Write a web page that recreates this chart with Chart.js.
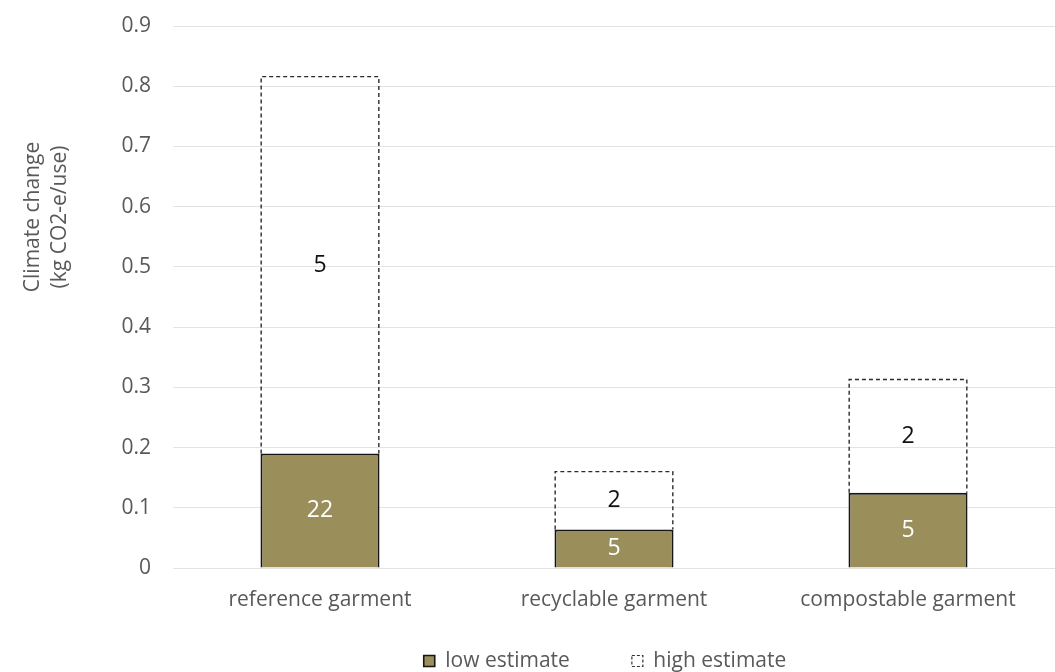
<!DOCTYPE html>
<html><head><meta charset="utf-8">
<script src="https://cdn.jsdelivr.net/npm/chart.js@4"></script>
<style>html,body{margin:0;padding:0;background:#fff}#wrap{width:1055px;height:672px}</style>
</head><body><div id="wrap"><canvas id="c" width="1055" height="672"></canvas></div>
<script>
const categories = ['reference garment', 'recyclable garment', 'compostable garment'];
const lowEstimate = [0.190, 0.064, 0.125];
const highEstimateExtra = [0.626, 0.096, 0.188];
const lowLabels = ['22', '5', '5'];
const highLabels = ['5', '2', '2'];
const yTickLabels = ['0', '0.1', '0.2', '0.3', '0.4', '0.5', '0.6', '0.7', '0.8', '0.9'];
const yTitle = ['Climate change', '(kg CO2-e/use)'];
const seriesNames = ['low estimate', 'high estimate'];

const OLIVE = '#9a8f5b';
const GRAY = '#595959';
const FONT = '"Open Sans", "DejaVu Sans", sans-serif';

const extras = {
  id: 'extras',
  afterLayout(chart) {
    const lg = chart.legend;
    const pad = lg.options.labels.padding;
    const itemH = lg.options.labels.font.size;
    lg.top = 661 - pad - itemH / 2;
    lg.bottom = chart.height;
    lg.left -= 9;
    lg.right -= 9;
  },
  afterDatasetsDraw(chart) {
    const ctx = chart.ctx;
    const m1 = chart.getDatasetMeta(1);
    m1.data.forEach(bar => {
      const p = bar.getProps(['x', 'y', 'base', 'width'], true);
      const l = p.x - p.width / 2 + 0.7, r = p.x + p.width / 2 - 0.7;
      ctx.save();
      ctx.setLineDash([4, 3]);
      ctx.strokeStyle = '#2b2b2b';
      ctx.lineWidth = 1.4;
      ctx.beginPath();
      ctx.moveTo(l, p.base); ctx.lineTo(l, p.y); ctx.lineTo(r, p.y); ctx.lineTo(r, p.base);
      ctx.stroke();
      ctx.restore();
    });
    const drawLabels = (idx, labels, color) => {
      chart.getDatasetMeta(idx).data.forEach((bar, i) => {
        const p = bar.getProps(['x', 'y', 'base'], true);
        ctx.save();
        ctx.fillStyle = color;
        ctx.font = '23px ' + FONT;
        ctx.textAlign = 'center';
        ctx.textBaseline = 'middle';
        ctx.fillText(labels[i], p.x, (p.y + p.base) / 2);
        ctx.restore();
      });
    };
    drawLabels(0, lowLabels, '#ffffff');
    drawLabels(1, highLabels, '#111111');
  },
  afterDraw(chart) {
    const ctx = chart.ctx;
    ctx.save();
    ctx.translate(33, 217);
    ctx.rotate(-Math.PI / 2);
    ctx.fillStyle = GRAY;
    ctx.font = '21px ' + FONT;
    ctx.textAlign = 'center';
    ctx.textBaseline = 'middle';
    ctx.fillText(yTitle[0], 0, 0);
    ctx.fillText(yTitle[1], 0, 27);
    ctx.restore();
  }
};

new Chart(document.getElementById('c'), {
  type: 'bar',
  data: {
    labels: categories,
    datasets: [
      {
        label: seriesNames[0],
        data: lowEstimate,
        backgroundColor: OLIVE,
        borderColor: '#151515',
        borderWidth: 2,
        borderSkipped: 'start',
        barPercentage: 0.405,
        categoryPercentage: 1
      },
      {
        label: seriesNames[1],
        data: highEstimateExtra,
        backgroundColor: 'rgba(255,255,255,0)',
        borderWidth: 0,
        barPercentage: 0.405,
        categoryPercentage: 1
      }
    ]
  },
  options: {
    responsive: false,
    animation: false,
    devicePixelRatio: 1,
    layout: { padding: { top: 26, left: 0, right: 0, bottom: 0 } },
    plugins: {
      tooltip: { enabled: false },
      legend: {
        position: 'bottom',
        fullSize: false,
        maxHeight: 44,
        labels: {
          boxWidth: 11,
          boxHeight: 11,
          padding: 62,
          color: GRAY,
          font: { family: FONT, size: 21 },
          generateLabels: () => seriesNames.map((name, i) => ({
            text: name,
            fillStyle: i === 0 ? OLIVE : '#ffffff',
            strokeStyle: i === 0 ? '#151515' : '#333333',
            lineWidth: i === 0 ? 1.6 : 1.2,
            lineDash: i === 0 ? [] : [3, 2],
            hidden: false,
            datasetIndex: i,
            fontColor: GRAY
          }))
        }
      }
    },
    scales: {
      x: {
        stacked: true,
        grid: { display: false, drawTicks: false },
        border: { display: false },
        ticks: { color: GRAY, font: { family: FONT, size: 21 }, padding: 19, maxRotation: 0 },
        afterFit: s => { s.height = 60; }
      },
      y: {
        stacked: true,
        min: 0,
        max: 0.9,
        grid: { color: '#e3e3e3', lineWidth: 1, drawTicks: false },
        border: { display: false },
        ticks: {
          stepSize: 0.1,
          color: GRAY,
          padding: 22,
          font: { family: FONT, size: 21 },
          callback: (v, i) => yTickLabels[i]
        },
        afterFit: s => { s.width = 173; s.paddingTop = 0; s.paddingBottom = 0; }
      }
    }
  },
  plugins: [extras]
});
</script>
</body></html>
